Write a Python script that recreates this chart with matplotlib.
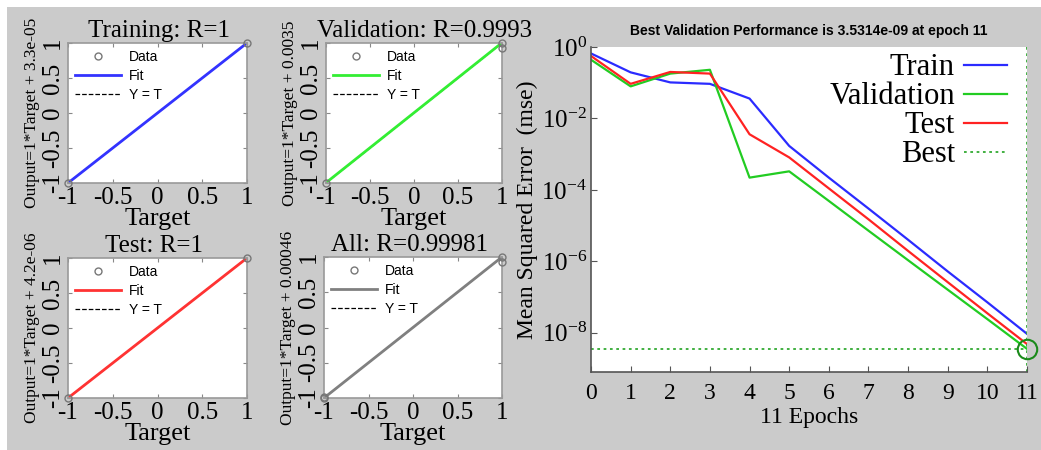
"""
Regression plots (target vs output) and training performance curve,
redrawn in the style of the MATLAB nntool figures.
"""

import matplotlib
matplotlib.use("Agg")
import matplotlib.pyplot as plt
import numpy as np
from matplotlib.patches import Rectangle
from matplotlib.ticker import FixedLocator, FixedFormatter, NullLocator

SERIF = "Liberation Serif"
SANS = "Liberation Sans"
BG = "#cbcbcb"

plt.rcParams.update({
    "font.family": SERIF,
    "mathtext.fontset": "custom",
    "mathtext.rm": SERIF,
    "mathtext.it": SERIF + ":italic",
    "mathtext.bf": SERIF + ":bold",
})

# regression panels
panel_titles = ["Training: R=1", "Validation: R=0.9993", "Test: R=1", "All: R=0.99981"]
fit_slopes = [1, 1, 1, 1]
fit_intercepts = [3.3e-05, 0.0035, 4.2e-06, 0.00046]
fit_labels = ["3.3e-05", "0.0035", "4.2e-06", "0.00046"]
fit_colors = ["#3333ff", "#33ee33", "#ff3333", "#808080"]
data_targets = [[-1, 1], [-1, 1, 1], [-1, 1], [-1, -1, 1, 1]]
data_outputs = [[-1, 1], [-1, 1, 0.93], [-1, 1], [-1, -0.98, 1, 0.93]]
reg_ticks = [-1, -0.5, 0, 0.5, 1]
reg_ticklabels = ["-1", "-0.5", "0", "0.5", "1"]

# performance curve
epochs = list(range(12))
train_mse = [0.66, 0.195, 0.102, 0.093, 0.036, 1.7e-3, 2.2e-4, 3.0e-5, 4.0e-6, 5.2e-7, 7.1e-8, 9.3e-9]
valid_mse = [0.44, 0.079, 0.18, 0.23, 2.2e-4, 3.3e-4, 4.9e-5, 7.2e-6, 1.07e-6, 1.6e-7, 2.4e-8, 3.5314e-9]
test_mse = [0.56, 0.093, 0.20, 0.18, 3.6e-3, 8.1e-4, 1.1e-4, 1.5e-5, 1.95e-6, 2.6e-7, 3.5e-8, 4.8e-9]
best_epoch = 11
best_perf = 3.5314e-09
perf_yticks = [1, 1e-2, 1e-4, 1e-6, 1e-8]
perf_yticklabels = ["$10^{0}$", "$10^{-2}$", "$10^{-4}$", "$10^{-6}$", "$10^{-8}$"]

W, H = 1041, 450
fig = plt.figure(figsize=(W / 100, H / 100), dpi=100, facecolor="white")
fig.patches.append(Rectangle((7 / W, 0), 1, 1 - 7 / H, transform=fig.transFigure,
                             facecolor=BG, edgecolor="none", zorder=-10))


def px_axes(x0, x1, y0, y1):
    return fig.add_axes([x0 / W, 1 - y1 / H, (x1 - x0) / W, (y1 - y0) / H])


boxes = [(68, 247, 43, 183), (326, 502, 43, 183), (68, 247, 258, 398), (324, 502, 257, 398)]
title_x = [0.51, 0.56, 0.48, 0.48]

for i, box in enumerate(boxes):
    ax = px_axes(*box)
    ax.set_facecolor("white")
    t = np.array([-1, 1])
    ax.plot(t, t, "--", color="black", lw=0.9, zorder=1, label="Y = T")
    ax.plot(t, fit_slopes[i] * t + fit_intercepts[i], color=fit_colors[i], lw=2, zorder=2, label="Fit")
    ax.plot(data_targets[i], data_outputs[i], "o", mfc="none", mec="#777777", ms=5,
            mew=1, clip_on=False, zorder=3, label="Data")
    ax.set_xlim(-1, 1)
    ax.set_ylim(-1, 1)
    ax.xaxis.set_major_locator(FixedLocator(reg_ticks))
    ax.xaxis.set_major_formatter(FixedFormatter(reg_ticklabels))
    ax.yaxis.set_major_locator(FixedLocator(reg_ticks))
    ax.yaxis.set_major_formatter(FixedFormatter(reg_ticklabels))
    ax.tick_params(direction="in", length=3, color="#888888", top=True, right=True,
                   labelsize=18, pad=3)
    for lab in ax.get_yticklabels():
        lab.set_rotation(90)
        lab.set_va("center")
    for s in ax.spines.values():
        s.set_color("#999999")
        s.set_linewidth(1.2)
    ax.set_title(panel_titles[i], fontsize=18, pad=4, x=title_x[i])
    ax.set_xlabel("Target", fontsize=19, labelpad=-1)
    ax.set_ylabel(f"Output={fit_slopes[i]}*Target + {fit_labels[i]}", fontsize=12.5, labelpad=1)
    h, l = ax.get_legend_handles_labels()
    order = [2, 1, 0]
    ax.legend([h[k] for k in order], [l[k] for k in order], loc="upper left",
              frameon=False, prop={"family": SANS, "size": 10}, handlelength=3.3,
              borderaxespad=0.1, labelspacing=0.35, handletextpad=0.6)

# performance panel
ax = px_axes(591, 1027, 47, 372)
ax.set_facecolor("white")
ax.set_yscale("log")
ax.plot(epochs, train_mse, color="#2b2bff", lw=1.6, label="Train")
ax.plot(epochs, valid_mse, color="#22cc22", lw=1.6, label="Validation")
ax.plot(epochs, test_mse, color="#ff2222", lw=1.6, label="Test")
ax.axhline(best_perf, color="#33aa33", ls=(0, (1.5, 2)), lw=1.3, label="Best")
ax.axvline(best_epoch, color="#33aa33", ls=(0, (1.5, 2)), lw=1.3)
ax.plot([best_epoch], [best_perf], "o", mfc="none", mec="#1a8a1a", ms=14, mew=1.5, clip_on=False)
ax.set_xlim(0, 11)
ax.set_ylim(10 ** -9.1, 1)
ax.set_xticks(epochs)
ax.set_xticklabels([str(e) for e in epochs])
ax.yaxis.set_major_locator(FixedLocator(perf_yticks))
ax.yaxis.set_major_formatter(FixedFormatter(perf_yticklabels))
ax.yaxis.set_minor_locator(NullLocator())
ax.tick_params(direction="in", length=4, color="#555555", labelsize=17, pad=8)
ax.tick_params(axis="y", labelsize=18, pad=3)
ax.spines[["top", "right"]].set_visible(False)
for s in ("left", "bottom"):
    ax.spines[s].set_color("#555555")
    ax.spines[s].set_linewidth(1.2)
ax.set_title("Best Validation Performance is 3.5314e-09 at epoch 11",
             fontsize=10, fontweight="bold", family=SANS, pad=9)
ax.set_xlabel("11 Epochs", fontsize=17, labelpad=2)
ax.set_ylabel("Mean Squared Error  (mse)", fontsize=17, labelpad=2)
ax.legend(loc="upper right", bbox_to_anchor=(0.982, 1.018), frameon=False,
          markerfirst=False, fontsize=22, handlelength=1.4, labelspacing=0.0,
          handletextpad=0.3, borderaxespad=0.0)

fig.savefig("out.png", dpi=100, facecolor=fig.get_facecolor())
